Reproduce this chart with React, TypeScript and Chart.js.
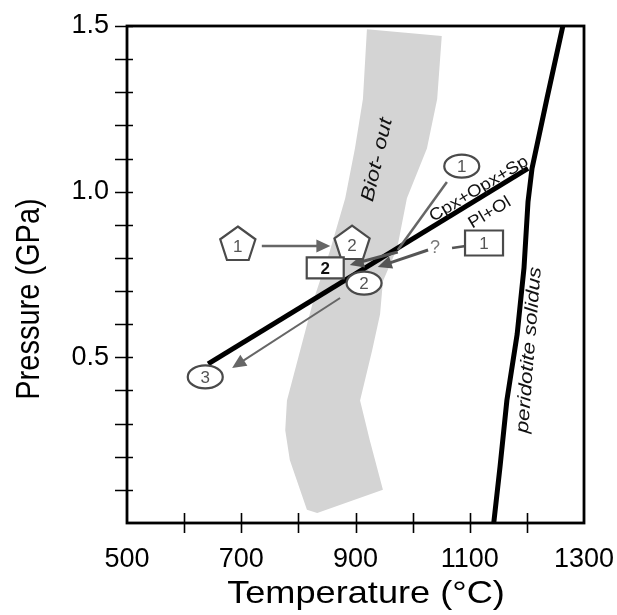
import React, { useEffect, useRef } from 'react';
import { Chart, registerables } from 'chart.js';

Chart.register(...registerables);

// Axis labels (values shown)
const tempLabels = [500, 700, 900, 1100, 1300];
const pressureLabels = [0.5, 1.0, 1.5];

// Biotite-out band (polygon outline, T in °C, P in GPa)
const biotOutT = [920, 913, 899, 882, 855, 826, 803, 780, 777, 785, 815, 833, 948, 925, 908, 929, 943, 948, 973, 990, 1025, 1043, 1051];
const biotOutP = [1.49, 1.28, 1.13, 0.98, 0.82, 0.67, 0.52, 0.37, 0.28, 0.19, 0.04, 0.03, 0.10, 0.25, 0.37, 0.52, 0.63, 0.73, 0.83, 0.98, 1.13, 1.28, 1.47];

// Peridotite solidus
const solidusT = [1142, 1153, 1165, 1183, 1195, 1202, 1209, 1235, 1263];
const solidusP = [0, 0.17, 0.37, 0.57, 0.77, 0.97, 1.07, 1.28, 1.5];

// Cpx+Opx+Sp = Pl+Ol reaction
const reactionT = [642, 1202];
const reactionP = [0.48, 1.07];

// Sample markers
const markerKind = ['pentagon', 'pentagon', 'boxDark', 'box', 'ellipse', 'ellipse', 'ellipse'];
const markerLabel = ['1', '2', '2', '1', '1', '2', '3'];
const markerT = [694, 894, 847, 1125, 1086, 915, 637];
const markerP = [0.839, 0.842, 0.77, 0.845, 1.077, 0.724, 0.441];

// Path arrows
const arrowFromT = [736, 1060, 974, 1027, 1069, 873];
const arrowFromP = [0.836, 1.029, 0.818, 0.824, 0.83, 0.679];
const arrowToT = [856, 974, 890, 939, 1093, 684];
const arrowToP = [0.836, 0.824, 0.779, 0.773, 0.836, 0.468];
const arrowHead = [true, false, true, true, false, true];

// Annotations
const noteText = ['Biot- out', 'Cpx+Opx+Sp', 'Pl+Ol', 'peridotite solidus', '?'];
const noteT = [938, 1116, 1135, 1204, 1039];
const noteP = [1.096, 1.008, 0.936, 0.522, 0.83];

const FONT = '"Liberation Sans", Arial, Helvetica, sans-serif';

function drawText(ctx: CanvasRenderingContext2D, text: string, x: number, y: number, angle: number, font: string, color: string, sx = 1, sy = 1) {
  ctx.save();
  ctx.translate(x, y);
  ctx.rotate((angle * Math.PI) / 180);
  ctx.scale(sx, sy);
  ctx.font = font;
  ctx.fillStyle = color;
  ctx.textAlign = 'center';
  ctx.textBaseline = 'middle';
  ctx.fillText(text, 0, 0);
  ctx.restore();
}

function zeroPadding(s: any) {
  s.paddingTop = 0;
  s.paddingBottom = 0;
  s.paddingLeft = 0;
  s.paddingRight = 0;
}

export default function App() {
  const ref = useRef<HTMLCanvasElement>(null);

  useEffect(() => {
    const canvas = ref.current!;

    const noteStyle = [
      { angle: -77, font: `italic 19px ${FONT}`, color: '#111', sx: 1.2 },
      { angle: -31, font: `17px ${FONT}`, color: '#111', sx: 1.1 },
      { angle: -31, font: `17px ${FONT}`, color: '#111', sx: 1.1 },
      { angle: -85.5, font: `italic 18.5px ${FONT}`, color: '#111', sx: 1.2 },
      { angle: 0, font: `18px ${FONT}`, color: '#777', sx: 1 },
    ];
    const arrowStyle = [
      { color: '#666', width: 2.5 },
      { color: '#666', width: 2.5 },
      { color: '#555', width: 3 },
      { color: '#555', width: 3 },
      { color: '#555', width: 2.5 },
      { color: '#666', width: 2 },
    ];

    const overlay = {
      id: 'overlay',
      afterDatasetsDraw(chart: any) {
        const ctx: CanvasRenderingContext2D = chart.ctx;
        const xs = chart.scales.x;
        const ys = chart.scales.y;
        // arrows
        for (let i = 0; i < arrowFromT.length; i++) {
          const x1 = xs.getPixelForValue(arrowFromT[i]);
          const y1 = ys.getPixelForValue(arrowFromP[i]);
          const x2 = xs.getPixelForValue(arrowToT[i]);
          const y2 = ys.getPixelForValue(arrowToP[i]);
          const st = arrowStyle[i];
          const ang = Math.atan2(y2 - y1, x2 - x1);
          const hl = 14, hw = 6.5;
          ctx.save();
          ctx.strokeStyle = st.color;
          ctx.fillStyle = st.color;
          ctx.lineWidth = st.width;
          ctx.beginPath();
          ctx.moveTo(x1, y1);
          const ex = arrowHead[i] ? x2 - Math.cos(ang) * (hl - 2) : x2;
          const ey = arrowHead[i] ? y2 - Math.sin(ang) * (hl - 2) : y2;
          ctx.lineTo(ex, ey);
          ctx.stroke();
          if (arrowHead[i]) {
            ctx.beginPath();
            ctx.moveTo(x2, y2);
            ctx.lineTo(x2 - Math.cos(ang) * hl + Math.sin(ang) * hw, y2 - Math.sin(ang) * hl - Math.cos(ang) * hw);
            ctx.lineTo(x2 - Math.cos(ang) * hl - Math.sin(ang) * hw, y2 - Math.sin(ang) * hl + Math.cos(ang) * hw);
            ctx.closePath();
            ctx.fill();
          }
          ctx.restore();
        }
        // markers
        for (let i = 0; i < markerT.length; i++) {
          const px = xs.getPixelForValue(markerT[i]);
          const py = ys.getPixelForValue(markerP[i]);
          const kind = markerKind[i];
          ctx.save();
          ctx.lineWidth = 2.2;
          ctx.strokeStyle = '#4a4a4a';
          ctx.fillStyle = '#ffffff';
          ctx.beginPath();
          let ty = py;
          if (kind === 'pentagon') {
            const R = 18.5;
            for (let k = 0; k < 5; k++) {
              const a = -Math.PI / 2 + (k * 2 * Math.PI) / 5;
              const vx = px + R * Math.cos(a);
              const vy = py + R * Math.sin(a);
              if (k === 0) ctx.moveTo(vx, vy); else ctx.lineTo(vx, vy);
            }
            ctx.closePath();
            ty = py + 1;
          } else if (kind === 'boxDark') {
            ctx.rect(px - 18.5, py - 10.5, 37, 21);
          } else if (kind === 'box') {
            ctx.rect(px - 19, py - 12.5, 38, 25);
          } else {
            ctx.ellipse(px, py, 17.5, 11.5, 0, 0, Math.PI * 2);
          }
          ctx.fill();
          ctx.stroke();
          ctx.restore();
          if (kind === 'boxDark') {
            drawText(ctx, markerLabel[i], px, ty + 1, 0, `bold 17px ${FONT}`, '#111');
          } else {
            drawText(ctx, markerLabel[i], px, ty + 1, 0, `17px ${FONT}`, '#555');
          }
        }
        // notes
        for (let i = 0; i < noteText.length; i++) {
          const s = noteStyle[i];
          drawText(ctx, noteText[i], xs.getPixelForValue(noteT[i]), ys.getPixelForValue(noteP[i]), s.angle, s.font, s.color, s.sx, 1);
        }
      },
      afterDraw(chart: any) {
        const ctx: CanvasRenderingContext2D = chart.ctx;
        const a = chart.chartArea;
        const xs = chart.scales.x;
        const ys = chart.scales.y;
        ctx.save();
        ctx.strokeStyle = '#000';
        // tick marks crossing the axes
        ctx.lineWidth = 1.6;
        ctx.beginPath();
        xs.ticks.forEach((t: any) => {
          if (t.value > xs.min + 1e-6 && t.value < xs.max - 1e-6) {
            const px = Math.round(xs.getPixelForValue(t.value)) + 0.5;
            ctx.moveTo(px, a.bottom - 10);
            ctx.lineTo(px, a.bottom + 10);
          }
        });
        ys.ticks.forEach((t: any) => {
          if (t.value > ys.min + 1e-6) {
            const py = Math.round(ys.getPixelForValue(t.value)) + 0.5;
            ctx.moveTo(a.left - 12, py);
            ctx.lineTo(a.left + 6, py);
          }
        });
        ctx.stroke();
        // frame
        ctx.lineWidth = 2.8;
        ctx.strokeRect(a.left, a.top, a.right - a.left, a.bottom - a.top);
        ctx.restore();
        // axis titles
        drawText(ctx, 'Temperature (°C)', 366, 594, 0, `32px ${FONT}`, '#000', 1.13, 1);
        drawText(ctx, 'Pressure (GPa)', 30, 299, -90, `29px ${FONT}`, '#000', 1, 1.15);
      },
    };

    const chart = new Chart(canvas, {
      type: 'scatter',
      data: {
        datasets: [
          {
            label: 'Peridotite solidus',
            data: solidusT.map((t, i) => ({ x: t, y: solidusP[i] })),
            showLine: true,
            borderColor: '#000',
            borderWidth: 5,
            pointRadius: 0,
            fill: false,
            tension: 0,
          },
          {
            label: 'Cpx+Opx+Sp / Pl+Ol',
            data: reactionT.map((t, i) => ({ x: t, y: reactionP[i] })),
            showLine: true,
            borderColor: '#000',
            borderWidth: 5,
            pointRadius: 0,
            fill: false,
          },
          {
            label: 'Biot-out',
            data: biotOutT.map((t, i) => ({ x: t, y: biotOutP[i] })),
            showLine: true,
            borderColor: 'rgba(0,0,0,0)',
            borderWidth: 0,
            backgroundColor: '#d4d4d4',
            fill: 'shape',
            pointRadius: 0,
            tension: 0,
          },
        ],
      },
      options: {
        responsive: false,
        animation: false,
        devicePixelRatio: 1,
        events: [],
        layout: { padding: { top: 26, right: 33, bottom: 0, left: 0 } },
        plugins: { legend: { display: false }, tooltip: { enabled: false } },
        scales: {
          x: {
            type: 'linear',
            position: 'bottom',
            min: 500,
            max: 1300,
            grid: { display: false, drawTicks: false, tickLength: 0 },
            border: { display: false },
            ticks: {
              stepSize: 100,
              autoSkip: false,
              maxRotation: 0,
              minRotation: 0,
              padding: 20,
              color: '#000',
              font: { family: FONT, size: 27 },
              callback: (v: any) => (tempLabels.includes(Math.round(v)) ? String(Math.round(v)) : ''),
            },
            afterFit: (s: any) => {
              s.height = 92;
              zeroPadding(s);
            },
          },
          y: {
            type: 'linear',
            min: 0,
            max: 1.5,
            grid: { display: false, drawTicks: false, tickLength: 0 },
            border: { display: false },
            ticks: {
              stepSize: 0.1,
              autoSkip: false,
              padding: 18,
              color: '#000',
              font: { family: FONT, size: 27 },
              callback: (v: any) => {
                const m = pressureLabels.find((p) => Math.abs(p - v) < 1e-6);
                return m !== undefined ? m.toFixed(1) : '';
              },
            },
            afterFit: (s: any) => {
              s.width = 127;
              zeroPadding(s);
            },
          },
        },
      },
      plugins: [overlay],
    } as any);

    return () => chart.destroy();
  }, []);

  return (
    <div style={{ position: 'absolute', left: 0, top: 0 }}>
      <canvas ref={ref} width={617} height={615} style={{ display: 'block' }} />
    </div>
  );
}
